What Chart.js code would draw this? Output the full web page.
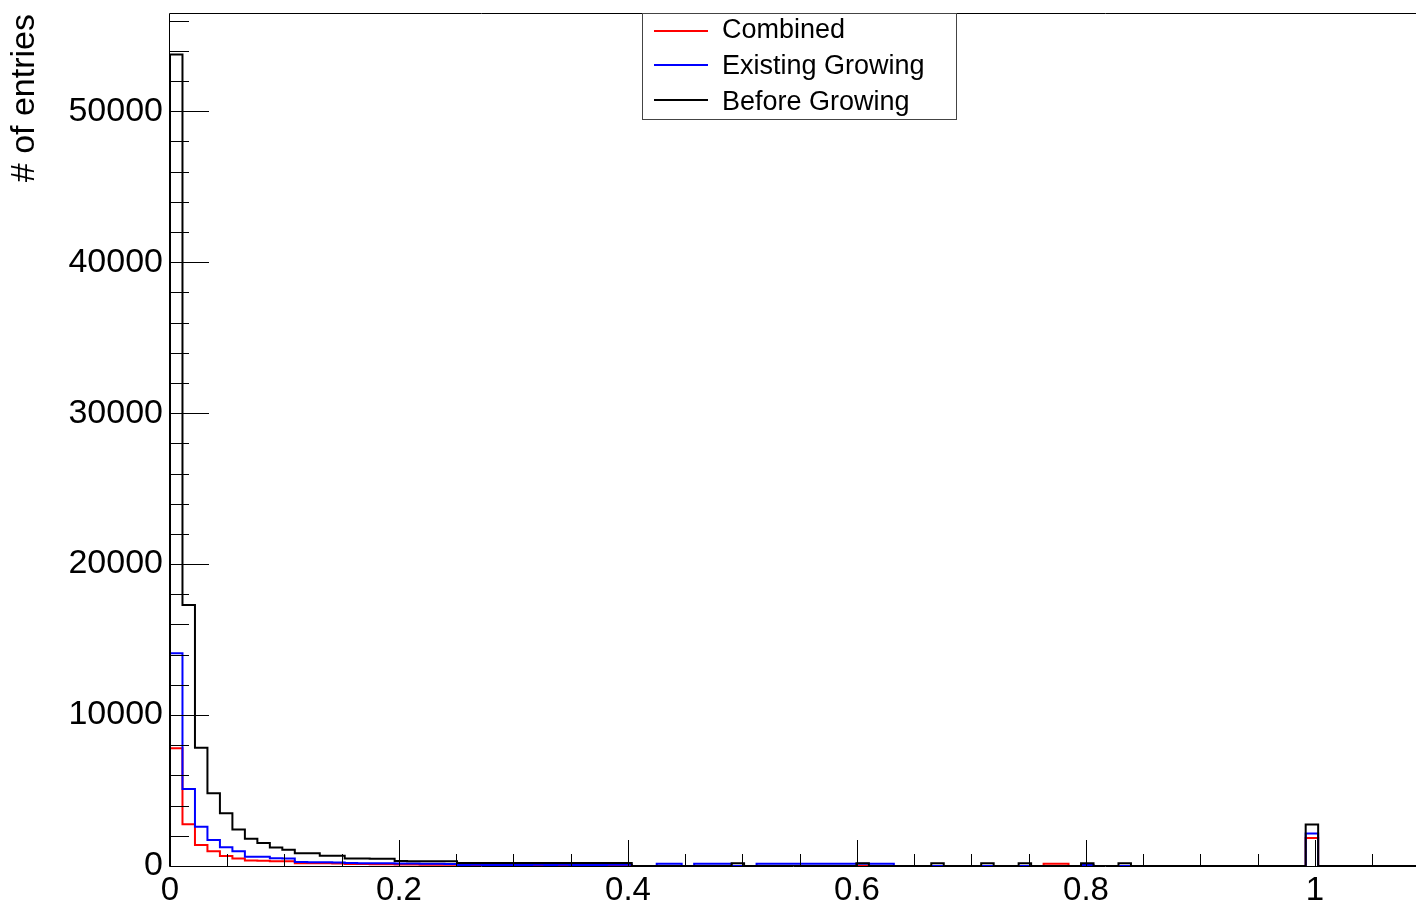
<!DOCTYPE html>
<html>
<head>
<meta charset="utf-8">
<title>Entries</title>
<script src="https://cdn.jsdelivr.net/npm/chart.js@4.4.1/dist/chart.umd.min.js"></script>
<style>
    html, body { margin: 0; padding: 0; background: #fff; overflow: hidden; }
    canvas { display: block; }
</style>
</head>
<body>
<canvas id="chart" width="1418" height="903"></canvas>
<script>
// histogram: 100 bins over [0, 1.09]
const binWidth = 0.0109;
const xMax = 1.09;
const yMax = 56440;

const combined = [
    7800, 2770, 1390, 970, 660, 500, 360, 350, 320, 310,
    190, 180, 180, 170, 130, 130, 120, 120, 100, 100,
    90, 90, 90, 90, 50, 90, 90, 90, 90, 50,
    90, 50, 90, 90, 90, 50, 50, 0, 0, 0,
    0, 0, 0, 0, 0, 0, 0, 0, 0, 0,
    0, 0, 0, 0, 0, 0, 0, 0, 0, 0,
    0, 0, 0, 0, 0, 0, 0, 0, 0, 0,
    150, 150, 0, 0, 0, 0, 0, 0, 0, 0,
    0, 0, 0, 0, 0, 0, 0, 0, 0, 0,
    0, 1850, 0, 0, 0, 0, 0, 0, 0, 0
];

const existingGrowing = [
    14090, 5100, 2600, 1720, 1250, 980, 620, 610, 510, 500,
    260, 250, 250, 240, 200, 190, 190, 180, 160, 160,
    150, 150, 140, 60, 90, 60, 60, 60, 60, 90,
    60, 90, 60, 60, 60, 90, 90, 0, 0, 150,
    150, 0, 150, 150, 150, 0, 0, 150, 150, 150,
    150, 150, 150, 150, 150, 150, 150, 150, 0, 0,
    0, 0, 0, 0, 0, 0, 0, 0, 0, 0,
    0, 0, 0, 60, 0, 0, 0, 0, 0, 0,
    0, 0, 0, 0, 0, 0, 0, 0, 0, 0,
    0, 2150, 0, 0, 0, 0, 0, 0, 0, 0
];

const beforeGrowing = [
    53750, 17290, 7830, 4820, 3490, 2420, 1800, 1530, 1220, 1070,
    850, 840, 680, 680, 500, 490, 480, 480, 330, 320,
    320, 310, 310, 200, 200, 200, 200, 200, 200, 200,
    200, 200, 200, 200, 200, 200, 200, 0, 0, 0,
    0, 0, 0, 0, 0, 180, 0, 0, 0, 0,
    0, 0, 0, 0, 0, 180, 0, 0, 0, 0,
    0, 180, 0, 0, 0, 180, 0, 0, 180, 0,
    0, 0, 0, 180, 0, 0, 180, 0, 0, 0,
    0, 0, 0, 0, 0, 0, 0, 0, 0, 0,
    0, 2750, 0, 0, 0, 0, 0, 0, 0, 0
];

const xTickValues = [0, 0.2, 0.4, 0.6, 0.8, 1];
const xTickLabels = ['0', '0.2', '0.4', '0.6', '0.8', '1'];
const yTickValues = [0, 10000, 20000, 30000, 40000, 50000];
const yTickLabels = ['0', '10000', '20000', '30000', '40000', '50000'];
const xMinorStep = 0.05;
const yMinorStep = 2000;

const FONT = "'Liberation Sans', Helvetica, Arial, sans-serif";

// turn bin contents into step points at the bin edges
function toSteps(values) {
    const pts = [{ x: 0, y: 0 }];
    values.forEach((v, i) => pts.push({ x: i * binWidth, y: v }));
    pts.push({ x: values.length * binWidth, y: values[values.length - 1] });
    return pts;
}

// ROOT style frame, inward ticks and boxed legend
const rootFrame = {
    id: 'rootFrame',
    afterDraw(chart) {
        const ctx = chart.ctx;
        const area = chart.chartArea;
        const xs = chart.scales.x;
        const ys = chart.scales.y;
        ctx.save();
        ctx.strokeStyle = '#000';
        ctx.lineWidth = 1;
        ctx.beginPath();
        ctx.rect(Math.round(area.left) - 0.5, Math.round(area.top) - 0.5,
                 area.right - area.left, area.bottom - area.top + 1);
        ctx.stroke();

        // y ticks
        ctx.beginPath();
        for (let v = 0; v <= yMax; v += yMinorStep) {
            const major = v % 10000 === 0;
            const y = Math.round(ys.getPixelForValue(v)) + 0.5;
            ctx.moveTo(area.left, y);
            ctx.lineTo(area.left + (major ? 39 : 19), y);
        }
        // x ticks
        for (let k = 0; k * xMinorStep <= xMax; k++) {
            const v = k * xMinorStep;
            const major = k % 4 === 0;
            const x = Math.round(xs.getPixelForValue(v)) + 0.5;
            ctx.moveTo(x, area.bottom);
            ctx.lineTo(x, area.bottom - (major ? 26 : 12));
        }
        ctx.stroke();

        // legend
        const box = { x: 642.5, y: 13.5, w: 314, h: 106 };
        ctx.fillStyle = '#fff';
        ctx.fillRect(box.x, box.y, box.w, box.h);
        ctx.strokeStyle = '#444';
        ctx.strokeRect(box.x, box.y, box.w, box.h);
        const lineRows = [31, 65, 100];
        const textRows = [31, 67, 103];
        ctx.font = '27px ' + FONT;
        ctx.textBaseline = 'middle';
        ctx.textAlign = 'left';
        chart.data.datasets.forEach((ds, i) => {
            ctx.strokeStyle = ds.borderColor;
            ctx.lineWidth = 2;
            ctx.beginPath();
            ctx.moveTo(654, lineRows[i]);
            ctx.lineTo(708, lineRows[i]);
            ctx.stroke();
            ctx.fillStyle = '#000';
            ctx.fillText(ds.label, 722, textRows[i]);
        });
        ctx.restore();
    }
};

const histStyle = {
    borderWidth: 2,
    pointRadius: 0,
    tension: 0,
    stepped: 'before',
    fill: false
};

new Chart(document.getElementById('chart'), {
    type: 'line',
    data: {
        datasets: [
            { ...histStyle, label: 'Combined', data: toSteps(combined), borderColor: '#ff0000', order: 3 },
            { ...histStyle, label: 'Existing Growing', data: toSteps(existingGrowing), borderColor: '#0000ff', order: 2 },
            { ...histStyle, label: 'Before Growing', data: toSteps(beforeGrowing), borderColor: '#000000', order: 1 }
        ]
    },
    options: {
        responsive: false,
        animation: false,
        events: [],
        layout: { padding: { top: 14, right: 0, left: 0, bottom: 0 } },
        plugins: {
            legend: { display: false },
            tooltip: { enabled: false }
        },
        scales: {
            x: {
                type: 'linear',
                min: 0,
                max: xMax,
                grid: { display: false, drawTicks: false },
                border: { display: false },
                ticks: {
                    color: '#000',
                    font: { family: FONT, size: 33 },
                    padding: 5,
                    maxRotation: 0,
                    autoSkip: false,
                    callback: (v, i) => xTickLabels[i]
                },
                afterBuildTicks: s => { s.ticks = xTickValues.map(v => ({ value: v })); },
                afterFit: s => { s.height = 37; s.paddingLeft = 0; s.paddingRight = 0; }
            },
            y: {
                type: 'linear',
                min: 0,
                max: yMax,
                grid: { display: false, drawTicks: false },
                border: { display: false },
                ticks: {
                    color: '#000',
                    font: { family: FONT, size: 34 },
                    padding: 7,
                    autoSkip: false,
                    callback: (v, i) => yTickLabels[i]
                },
                title: {
                    display: true,
                    text: '# of entries',
                    align: 'end',
                    color: '#000',
                    font: { family: FONT, size: 34 },
                    padding: { top: 4, bottom: 0 }
                },
                afterBuildTicks: s => { s.ticks = yTickValues.map(v => ({ value: v })); },
                afterFit: s => { s.width = 170; s.paddingTop = 0; s.paddingBottom = 0; }
            }
        }
    },
    plugins: [rootFrame]
});
</script>
</body>
</html>
